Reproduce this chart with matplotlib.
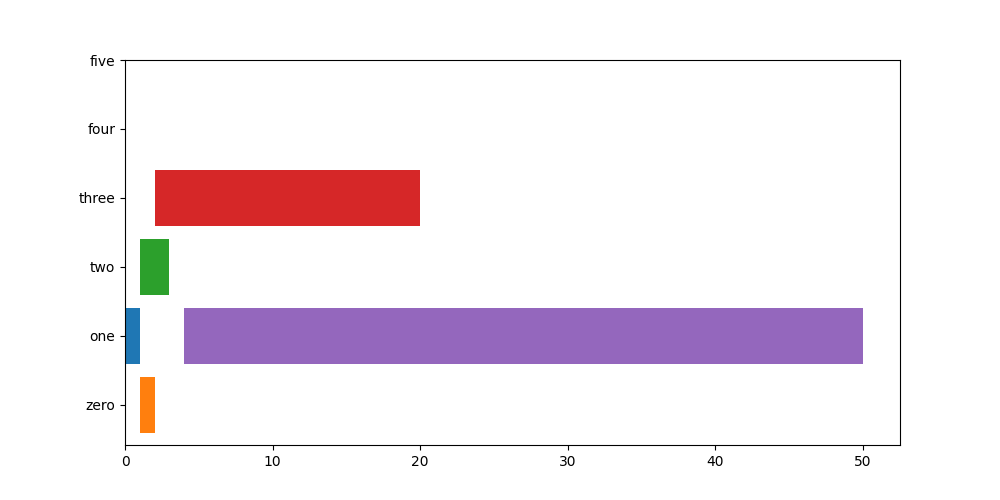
import numpy as np
import matplotlib
matplotlib.use("Agg")
import matplotlib.pyplot as plt

# categorias del eje y
categorias = ["zero", "one", "two", "three", "four", "five"]

# barras: categoria, inicio y fin
bar_cats = ["one", "zero", "two", "three", "one"]
bar_inicio = [0, 1, 1, 2, 4]
bar_fin = [1, 2, 3, 20, 50]

fig, ax = plt.subplots(figsize=(10, 5), dpi=100)

for cat, ini, fin in zip(bar_cats, bar_inicio, bar_fin):
    ax.barh(categorias.index(cat), fin - ini, left=ini)

ax.set_yticks(range(len(categorias)))
ax.set_yticklabels(categorias)
ax.set_ylim(-0.58, 5)

fig.savefig("out.png")
